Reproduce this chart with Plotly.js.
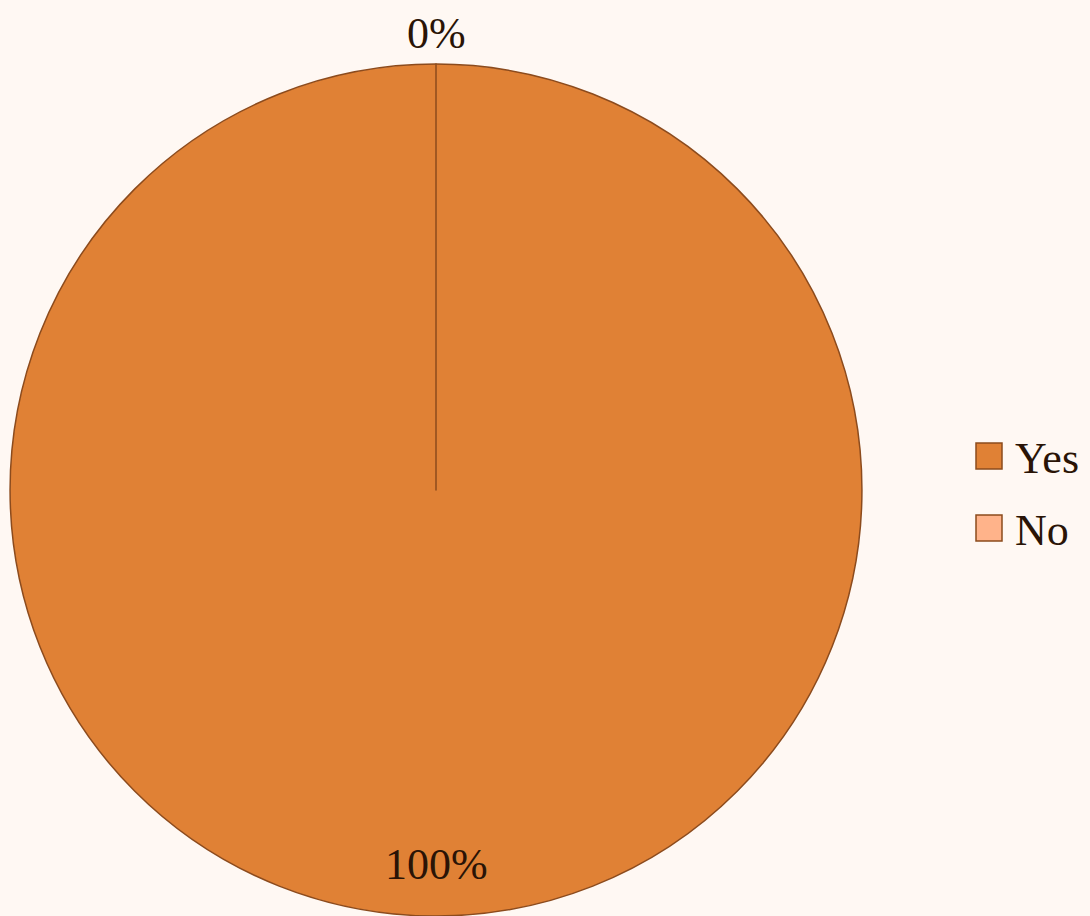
<!DOCTYPE html>
<html>
<head>
<meta charset="utf-8">
<script src="https://cdn.plot.ly/plotly-3.0.1.min.js"></script>
<style>
  html, body { margin: 0; padding: 0; background: #FFF8F3; }
  #chart { width: 1090px; height: 916px; }
</style>
</head>
<body>
<div id="chart"></div>
<script>
const labels = ['Yes', 'No'];
const values = [100, 0];
const colors = ['#E08135', '#FFB38A'];

const total = values.reduce((a, b) => a + b, 0);
const pctText = values.map(v => Math.round(v / total * 100) + '%');

const FONT = 'Liberation Serif, serif';
const TXT = '#2A1406';

const trace = {
  type: 'pie',
  labels: labels,
  values: values,
  sort: false,
  direction: 'clockwise',
  rotation: 0,
  marker: { colors: colors, line: { color: '#8C4B1D', width: 1.5 } },
  textinfo: 'none',
  domain: { x: [9 / 1090, 863 / 1090], y: [0, 0.93] },
  hoverinfo: 'label+percent'
};

// label placement (paper coords): Yes label near bottom inside, No label above the top
const labelPos = [
  { x: 436 / 1090, y: 1 - 864 / 916 },
  { x: 436 / 1090, y: 1 - 33 / 916 }
];

const annotations = pctText.map((t, i) => ({
  xref: 'paper', yref: 'paper',
  x: labelPos[i].x, y: labelPos[i].y,
  xanchor: 'center', yanchor: 'middle',
  text: t, showarrow: false,
  font: { family: FONT, size: 44, color: TXT }
}));

const layout = {
  width: 1090,
  height: 916,
  paper_bgcolor: '#FFF8F3',
  plot_bgcolor: '#FFF8F3',
  margin: { l: 0, r: 0, t: 0, b: 0 },
  showlegend: true,
  legend: {
    x: 0.889, y: 0.5, xanchor: 'left', yanchor: 'middle',
    font: { family: FONT, size: 44, color: TXT },
    bgcolor: 'rgba(0,0,0,0)'
  },
  annotations: annotations
};

Plotly.newPlot('chart', [trace], layout, { displayModeBar: false, staticPlot: true }).then(() => {
  const targetsY = [456, 528];
  const targetX = 989;
  const sb = document.querySelector('.legend .scrollbox');
  if (sb) sb.removeAttribute('clip-path');
  document.querySelectorAll('.legend .traces').forEach((g, i) => {
    const path = g.querySelector('.legendpoints path');
    const text = g.querySelector('text.legendtext');
    if (path) path.setAttribute('d', 'M13,13H-13V-13H13Z');
    if (text) text.setAttribute('x', 46);
    if (!path) return;
    const r = path.getBoundingClientRect();
    const cx = r.left + r.width / 2, cy = r.top + r.height / 2;
    const m = /translate\(\s*([-\d.e]+)[ ,]+([-\d.e]+)\s*\)/.exec(g.getAttribute('transform') || '');
    const tx = m ? parseFloat(m[1]) : 0, ty = m ? parseFloat(m[2]) : 0;
    g.setAttribute('transform', 'translate(' + (tx + targetX - cx) + ',' + (ty + targetsY[i] - cy) + ')');
  });
});
</script>
</body>
</html>
